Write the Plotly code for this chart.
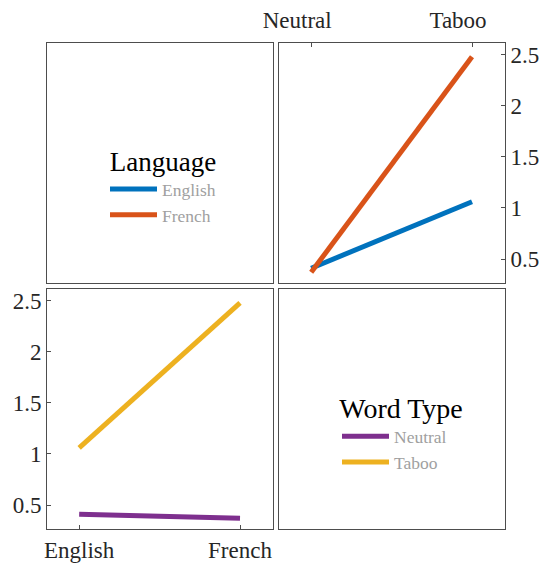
import plotly.graph_objects as go

# Interaction plot: mean response by language and word type
languages = ["English", "French"]
word_types = ["Neutral", "Taboo"]

# mean[language][word type]
english_means = [0.41, 1.06]   # Neutral, Taboo
french_means = [0.37, 2.48]    # Neutral, Taboo

# the same cell means grouped by word type (across languages)
neutral_means = [english_means[0], french_means[0]]
taboo_means = [english_means[1], french_means[1]]

lang_colors = {"English": "#0072BD", "French": "#D95319"}
type_colors = {"Neutral": "#7E2F8E", "Taboo": "#EDB120"}

W, H = 544, 565
FONT = "Liberation Serif"
AXIS_COLOR = "#4d4d4d"
TEXT_COLOR = "#262626"

fig = go.Figure()

# top-right: lines per language across word type
for name, vals in [("English", english_means), ("French", french_means)]:
    fig.add_trace(go.Scatter(
        x=word_types, y=vals, mode="lines", name=name,
        line=dict(color=lang_colors[name], width=5),
        xaxis="x2", yaxis="y2", legend="legend",
    ))

# bottom-left: lines per word type across language
for name, vals in [("Neutral", neutral_means), ("Taboo", taboo_means)]:
    fig.add_trace(go.Scatter(
        x=languages, y=vals, mode="lines", name=name,
        line=dict(color=type_colors[name], width=5),
        xaxis="x3", yaxis="y3", legend="legend2",
    ))

# empty frames for the legend panels
for ax in ["", "4"]:
    fig.add_trace(go.Scatter(x=[], y=[], xaxis="x" + ax, yaxis="y" + ax,
                             showlegend=False, hoverinfo="skip"))

left = [47 / W, 273 / W]
right = [279 / W, 505 / W]
top = [1 - 283 / H, 1 - 43 / H]
bottom = [1 - 529 / H, 1 - 289 / H]

frame = dict(showline=True, linecolor=AXIS_COLOR, linewidth=1, mirror=True,
             showgrid=False, zeroline=False, automargin=False)
tickstyle = dict(ticks="inside", ticklen=4, tickcolor=AXIS_COLOR,
                 tickfont=dict(family=FONT, size=23, color=TEXT_COLOR))
empty = dict(frame, showticklabels=False, ticks="", range=[0, 1], fixedrange=True)
yrange = [0.265, 2.615]
xrange = [-0.2, 1.205]
yticks = [0.5, 1, 1.5, 2, 2.5]
ylabels = ["0.5", "1", "1.5", "2", "2.5"]

legend_common = dict(
    font=dict(family=FONT, size=17.5, color="#a0a0a0"),
    xanchor="left", yanchor="top",
    bgcolor="rgba(0,0,0,0)", tracegroupgap=0, itemwidth=47,
)

fig.update_layout(
    width=W, height=H,
    margin=dict(l=0, r=0, t=0, b=0),
    paper_bgcolor="white", plot_bgcolor="white",
    font=dict(family=FONT, color=TEXT_COLOR),
    xaxis=dict(empty, domain=left, anchor="y"),
    yaxis=dict(empty, domain=top, anchor="x"),
    xaxis2=dict(frame, **tickstyle, domain=right, anchor="y2", side="top",
                range=xrange, type="category",
                ticklabelshift=-14, ticklabelstandoff=5),
    yaxis2=dict(frame, **tickstyle, domain=top, anchor="x2", side="right",
                range=yrange, tickvals=yticks, ticktext=ylabels),
    xaxis3=dict(frame, **tickstyle, domain=left, anchor="y3",
                range=xrange, type="category"),
    yaxis3=dict(frame, **tickstyle, domain=bottom, anchor="x3",
                range=yrange, tickvals=yticks, ticktext=ylabels),
    xaxis4=dict(empty, domain=right, anchor="y4"),
    yaxis4=dict(empty, domain=bottom, anchor="x4"),
    legend=dict(
        legend_common,
        title=dict(text="Language", side="top center",
                   font=dict(family=FONT, size=27, color="black")),
        x=105 / W, y=1 - 136 / H,
    ),
    legend2=dict(
        legend_common,
        title=dict(text="Word Type", side="top center",
                   font=dict(family=FONT, size=28, color="black")),
        x=337 / W, y=1 - 382 / H,
    ),
)

fig.write_html("out.html")
